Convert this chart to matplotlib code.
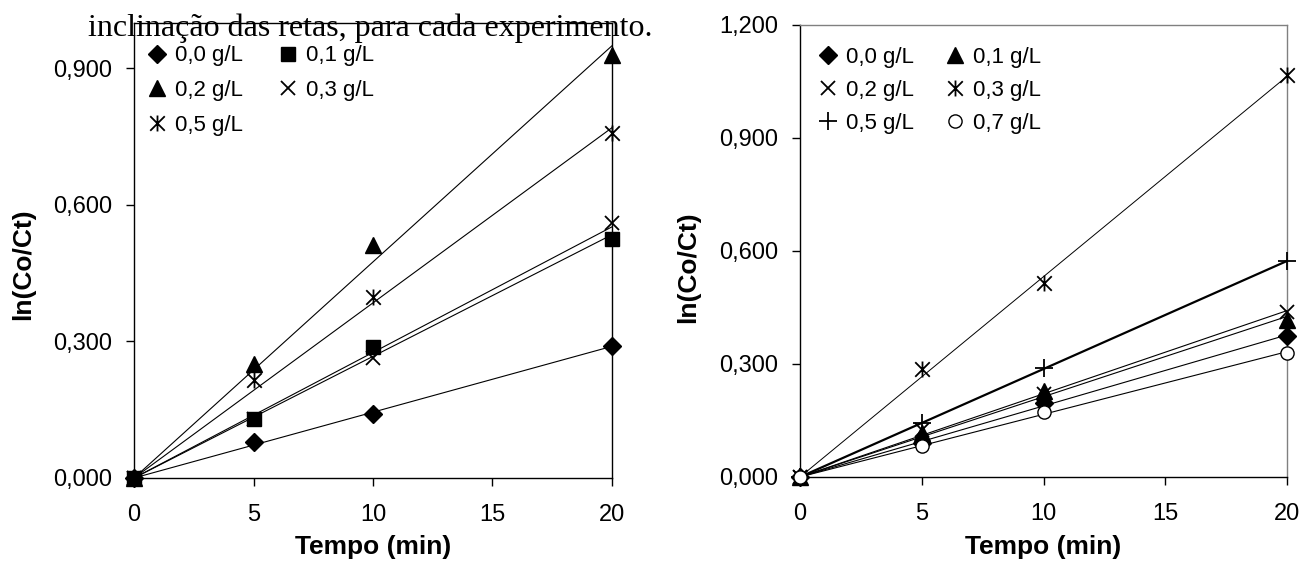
import matplotlib
matplotlib.use('Agg')
import matplotlib.pyplot as plt
import numpy as np
from matplotlib.path import Path
from matplotlib.ticker import FuncFormatter

plt.rcParams.update({
    'font.family': ['Liberation Sans', 'DejaVu Sans'],
    'font.size': 17,
    'axes.linewidth': 1.0,
})

# Dados
tempo = [0, 5, 10, 20]

esq_labels = ['0,0 g/L', '0,1 g/L', '0,2 g/L', '0,3 g/L', '0,5 g/L']
esq_00 = [0.0, 0.078, 0.140, 0.290]
esq_01 = [0.0, 0.129, 0.288, 0.525]
esq_02 = [0.0, 0.250, 0.511, 0.928]
esq_03 = [0.0, 0.130, 0.263, 0.560]
esq_05 = [0.0, 0.215, 0.398, 0.757]

dir_labels = ['0,0 g/L', '0,1 g/L', '0,2 g/L', '0,3 g/L', '0,5 g/L', '0,7 g/L']
dir_00 = [0.0, 0.090, 0.197, 0.374]
dir_01 = [0.0, 0.118, 0.228, 0.416]
dir_02 = [0.0, 0.125, 0.219, 0.439]
dir_03 = [0.0, 0.287, 0.515, 1.067]
dir_05 = [0.0, 0.143, 0.288, 0.573]
dir_07 = [0.0, 0.083, 0.172, 0.330]

titulo = 'inclinação das retas, para cada experimento.'

# marcador asterisco estilo Excel (X com traço vertical)
ASTER = Path([(-0.5, -0.5), (0.5, 0.5), (-0.5, 0.5), (0.5, -0.5), (0, -0.55), (0, 0.55)],
             [Path.MOVETO, Path.LINETO, Path.MOVETO, Path.LINETO, Path.MOVETO, Path.LINETO])

ESTILOS = {
    'diamond': dict(marker='D', ms=9.5, mfc='black', mec='black'),
    'square': dict(marker='s', ms=10.5, mfc='black', mec='black'),
    'triangle': dict(marker='^', ms=11.5, mfc='black', mec='black'),
    'x': dict(marker='x', ms=10.5, mec='black', mew=1.3),
    'aster': dict(marker=ASTER, ms=11.5, mfc='none', mec='black', mew=1.3),
    'plus': dict(marker='+', ms=13.5, mec='black', mew=1.3),
    'circle': dict(marker='o', ms=9.5, mfc='white', mec='black', mew=1.0),
}


def fmt_virgula(v, pos):
    return f'{v:.3f}'.replace('.', ',')


def plot_serie(ax, x, y, label, estilo, lw=0.8):
    x = np.asarray(x, dtype=float)
    y = np.asarray(y, dtype=float)
    # linha de tendência passando pela origem
    slope = np.sum(x * y) / np.sum(x * x)
    xx = np.array([0.0, 20.0])
    ax.plot(xx, slope * xx, '-', color='black', lw=lw, zorder=2)
    ln, = ax.plot(x, y, linestyle='none', label=label, clip_on=False,
                  zorder=3, **ESTILOS[estilo])
    return ln


def setup_axes(ax, ymax, spine_cor):
    ax.set_xlim(0, 20)
    ax.set_ylim(0, ymax)
    ax.set_xticks([0, 5, 10, 15, 20])
    ax.set_yticks(np.arange(0, ymax + 0.001, 0.3))
    ax.yaxis.set_major_formatter(FuncFormatter(fmt_virgula))
    ax.tick_params(axis='both', direction='out', length=6, width=1, labelsize=17)
    ax.tick_params(axis='x', pad=13)
    ax.tick_params(axis='y', pad=10)
    for s in ['top', 'right']:
        ax.spines[s].set_color(spine_cor)
    ax.set_xlabel('Tempo (min)', fontsize=19, fontweight='bold')
    ax.set_ylabel('ln(Co/Ct)', fontsize=19, fontweight='bold')


fig = plt.figure(figsize=(13.04, 5.63), dpi=100)
ax1 = fig.add_axes([0.1028, 0.1510, 0.3665, 0.8087])
ax2 = fig.add_axes([0.6135, 0.1528, 0.3735, 0.8028])

# painel esquerdo
h = []
h.append(plot_serie(ax1, tempo, esq_00, esq_labels[0], 'diamond'))
h.append(plot_serie(ax1, tempo, esq_01, esq_labels[1], 'square'))
h.append(plot_serie(ax1, tempo, esq_02, esq_labels[2], 'triangle'))
h.append(plot_serie(ax1, tempo, esq_03, esq_labels[3], 'x'))
h.append(plot_serie(ax1, tempo, esq_05, esq_labels[4], 'aster'))
setup_axes(ax1, 1.0, 'black')
ordem = [0, 2, 4, 1, 3]
ax1.legend([h[i] for i in ordem], [esq_labels[i] for i in ordem], ncol=2,
           loc='upper left', bbox_to_anchor=(0.025, 0.95), frameon=False,
           fontsize=16, handlelength=1.0, handletextpad=0.3, columnspacing=1.55,
           labelspacing=0.62, borderpad=0, borderaxespad=0)
ax1.yaxis.set_label_coords(-0.207, 0.47)
ax1.xaxis.set_label_coords(0.5, -0.125)

# painel direito
h2 = []
h2.append(plot_serie(ax2, tempo, dir_00, dir_labels[0], 'diamond'))
h2.append(plot_serie(ax2, tempo, dir_01, dir_labels[1], 'triangle'))
h2.append(plot_serie(ax2, tempo, dir_02, dir_labels[2], 'x'))
h2.append(plot_serie(ax2, tempo, dir_03, dir_labels[3], 'aster', lw=0.7))
h2.append(plot_serie(ax2, tempo, dir_05, dir_labels[4], 'plus', lw=1.6))
h2.append(plot_serie(ax2, tempo, dir_07, dir_labels[5], 'circle'))
setup_axes(ax2, 1.2, '#808080')
ordem2 = [0, 2, 4, 1, 3, 5]
ax2.legend([h2[i] for i in ordem2], [dir_labels[i] for i in ordem2], ncol=2,
           loc='upper left', bbox_to_anchor=(0.035, 0.952), frameon=False,
           fontsize=16, handlelength=1.0, handletextpad=0.3, columnspacing=1.35,
           labelspacing=0.55, borderpad=0, borderaxespad=0)
ax2.yaxis.set_label_coords(-0.205, 0.465)
ax2.xaxis.set_label_coords(0.5, -0.128)

fig.text(88 / 1304, 1 - 36 / 563, titulo, family=['Liberation Serif', 'DejaVu Serif'],
         fontsize=23, va='baseline', ha='left')

fig.savefig('out.png', dpi=100)
